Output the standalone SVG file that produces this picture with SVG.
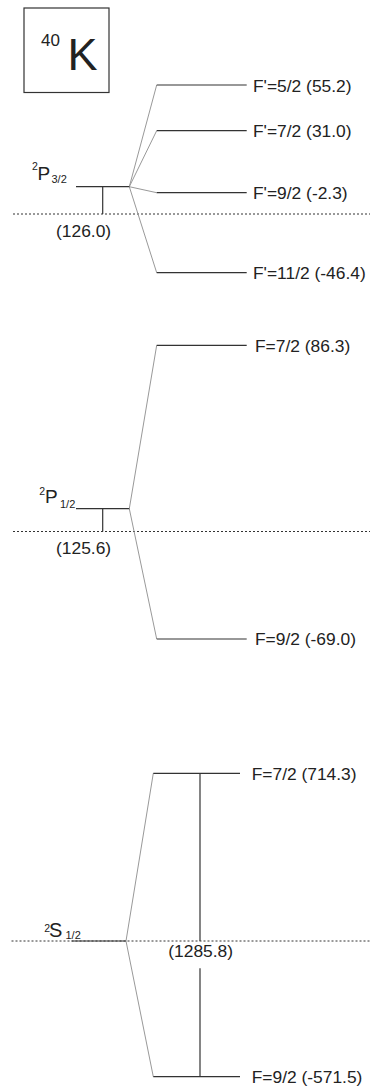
<svg xmlns="http://www.w3.org/2000/svg" width="370" height="1086" viewBox="0 0 370 1086">
<style>
text{font-family:"Liberation Sans",Arial,sans-serif;fill:#222}
.lbl{font-size:17.4px}
.lvl{stroke:#333;stroke-width:1.2;fill:none}
.fan{stroke:#999;stroke-width:1;fill:none}
.dot{stroke:#333;stroke-width:1;stroke-dasharray:2 2;fill:none}
.big{font-size:19px}
.sup{font-size:10.5px}
.sm{font-size:11px}
</style>
<rect width="370" height="1086" fill="#fff"/>
<g id="title">
<rect x="24" y="8" width="85" height="84.5" fill="none" stroke="#333" stroke-width="1.2"/>
<text><tspan x="41" y="45.5" font-size="17">40</tspan><tspan x="67.5" y="70" font-size="45">K</tspan></text>
</g>
<g id="connectors">
<line class="dot" x1="13" y1="214" x2="370" y2="214"/>
<line class="dot" x1="13" y1="531.5" x2="370" y2="531.5"/>
<line class="dot" x1="11.5" y1="941" x2="370" y2="941"/>
<path class="fan" d="M156.7 85 L129.3 186.7 L156.7 130.7 M129.3 186.7 L156.7 192.7 M129.3 186.7 L156.7 272.7"/>
<path class="fan" d="M156.7 345.3 L129.3 508.7 L156.7 639"/>
<path class="fan" d="M153.3 773.3 L126 941 L153.3 1076.7"/>
<line class="lvl" x1="102.7" y1="186.7" x2="102.7" y2="214"/>
<line class="lvl" x1="102.7" y1="508.7" x2="102.7" y2="531.5"/>
<line class="lvl" x1="200" y1="773.3" x2="200" y2="941"/>
<line class="lvl" x1="200" y1="968.3" x2="200" y2="1076.7"/>
</g>
<g id="P32">
<line class="lvl" x1="76" y1="186.7" x2="129.3" y2="186.7"/>
<text><tspan x="32" y="170" class="sup">2</tspan><tspan x="37.5" y="179.5" class="big">P</tspan><tspan x="51.5" y="183" class="sm">3/2</tspan></text>
<text class="lbl" x="56" y="236.5">(126.0)</text>
</g>
<g id="F52"><line class="lvl" x1="156.7" y1="85" x2="246.7" y2="85"/><text class="lbl" x="253" y="91.5">F'=5/2 (55.2)</text></g>
<g id="F72p"><line class="lvl" x1="156.7" y1="130.7" x2="246.7" y2="130.7"/><text class="lbl" x="253" y="137">F'=7/2 (31.0)</text></g>
<g id="F92p"><line class="lvl" x1="156.7" y1="192.7" x2="246.7" y2="192.7"/><text class="lbl" x="253" y="199">F'=9/2 (-2.3)</text></g>
<g id="F112p"><line class="lvl" x1="156.7" y1="272.7" x2="246.7" y2="272.7"/><text class="lbl" x="253" y="279">F'=11/2 (-46.4)</text></g>
<g id="P12">
<line class="lvl" x1="76" y1="508.7" x2="129.3" y2="508.7"/>
<text><tspan x="39.3" y="494.5" class="sup">2</tspan><tspan x="45" y="503" class="big">P</tspan><tspan x="60" y="507.7" class="sm">1/2</tspan></text>
<text class="lbl" x="56" y="554">(125.6)</text>
</g>
<g id="F72P1"><line class="lvl" x1="156.7" y1="345.3" x2="246.7" y2="345.3"/><text class="lbl" x="255" y="351.5">F=7/2 (86.3)</text></g>
<g id="F92P1"><line class="lvl" x1="156.7" y1="639" x2="246.7" y2="639"/><text class="lbl" x="255" y="645">F=9/2 (-69.0)</text></g>
<g id="S12">
<line class="lvl" x1="71.7" y1="941" x2="126" y2="941"/>
<text><tspan x="44.3" y="931.5" class="sup">2</tspan><tspan x="49" y="937" font-size="20">S</tspan><tspan x="65.5" y="939" class="sm">1/2</tspan></text>
<text class="lbl" x="168.3" y="957">(1285.8)</text>
</g>
<g id="F72S"><line class="lvl" x1="153.3" y1="773.3" x2="240" y2="773.3"/><text class="lbl" x="251.7" y="779.5">F=7/2 (714.3)</text></g>
<g id="F92S"><line class="lvl" x1="153.3" y1="1076.7" x2="240" y2="1076.7"/><text class="lbl" x="251.7" y="1083">F=9/2 (-571.5)</text></g>
</svg>
